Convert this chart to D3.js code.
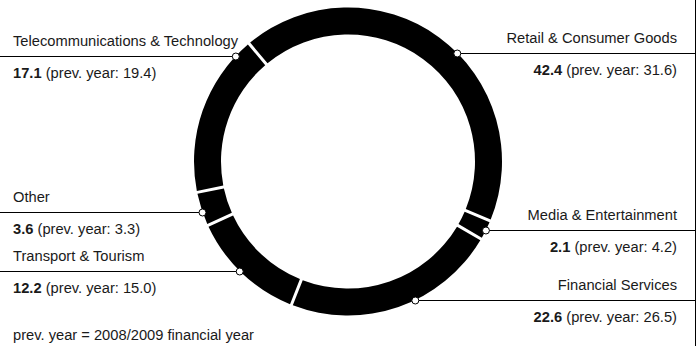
<!DOCTYPE html>
<html>
<head>
<meta charset="utf-8">
<script src="https://cdn.jsdelivr.net/npm/d3@7"></script>
<style>
  html, body { margin: 0; padding: 0; background: #fff; }
  svg { display: block; }
  text { font-family: "Liberation Sans", Arial, Helvetica, sans-serif; font-size: 14.7px; fill: #1a1a1a; }
  .val { font-weight: bold; }
</style>
</head>
<body>
<svg id="chart" width="696" height="346"></svg>
<script>
// Revenue share by sector (%), clockwise order around the ring
const sectors   = ["Retail & Consumer Goods", "Media & Entertainment", "Financial Services",
                   "Transport & Tourism", "Other", "Telecommunications & Technology"];
const shares    = [42.4, 2.1, 22.6, 12.2, 3.6, 17.1];
const prevYear  = [31.6, 4.2, 26.5, 15.0, 3.3, 19.4];
const footnote  = "prev. year = 2008/2009 financial year";

// Label layout: which side each label sits on and the height of its leader line
const labelSide = ["right", "right", "right", "left", "left", "left"];
const labelRowY = [53, 230, 300, 271, 212, 56];

const W = 696, H = 346;
const cx = 348, cy = 161.5;
const outerR = 154, innerR = 127;
const startDeg = -40;

const svg = d3.select("#chart");

const pie = d3.pie()
  .sort(null)
  .value(d => d.share)
  .startAngle(startDeg * Math.PI / 180)
  .endAngle((startDeg + 360) * Math.PI / 180);

const arc = d3.arc()
  .innerRadius(innerR)
  .outerRadius(outerR)
  .padRadius(150)
  .padAngle(3 / 150);

const rows = sectors.map((s, i) => ({ name: s, share: shares[i], prev: prevYear[i], side: labelSide[i], y: labelRowY[i] }));
const arcs = pie(rows);

const ring = svg.append("g").attr("transform", `translate(${cx},${cy})`);
ring.selectAll("path")
  .data(arcs)
  .join("path")
  .attr("d", arc)
  .attr("fill", "#000");

// Leader lines, dots and labels
const fmt = d3.format(".1f");
const labels = svg.append("g");

rows.forEach(r => {
  const dy = r.y - cy;
  const dx = Math.sqrt(outerR * outerR - dy * dy);
  const dotX = r.side === "right" ? cx + dx : cx - dx;
  const g = labels.append("g");

  g.append("line")
    .attr("x1", r.side === "right" ? dotX : 0)
    .attr("x2", r.side === "right" ? W : dotX)
    .attr("y1", r.y + 0.5).attr("y2", r.y + 0.5)
    .attr("stroke", "#000").attr("stroke-width", 1);

  const tx = r.side === "right" ? 677 : 13;
  const anchor = r.side === "right" ? "end" : "start";

  g.append("text")
    .attr("x", tx).attr("y", r.y - 10)
    .attr("text-anchor", anchor)
    .text(r.name);

  const t = g.append("text")
    .attr("x", tx).attr("y", r.y + 22)
    .attr("text-anchor", anchor);
  t.append("tspan").attr("class", "val").text(fmt(r.share));
  t.append("tspan").text(` (prev. year: ${fmt(r.prev)})`);

  g.append("circle")
    .attr("cx", dotX).attr("cy", r.y + 0.5)
    .attr("r", 3.5)
    .attr("fill", "#fff")
    .attr("stroke", "#000").attr("stroke-width", 1);
});

svg.append("text")
  .attr("x", 13).attr("y", 340)
  .text(footnote);

// Right frame edge
svg.append("line")
  .attr("x1", W - 0.5).attr("x2", W - 0.5)
  .attr("y1", 0).attr("y2", H)
  .attr("stroke", "#000").attr("stroke-width", 1);
</script>
</body>
</html>
